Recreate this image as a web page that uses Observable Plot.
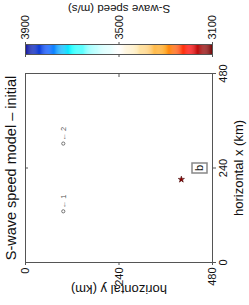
<!DOCTYPE html>
<html><head><meta charset="utf-8">
<script src="https://cdn.jsdelivr.net/npm/d3@7"></script>
<script src="https://cdn.jsdelivr.net/npm/@observablehq/plot@0.6"></script>
<style>
html,body{margin:0;padding:0;background:#fff;}
#chart{width:249px;height:305px;position:relative;font-family:"Liberation Sans",Arial,sans-serif;}
#chart svg{display:block;}
</style></head><body><div id="chart"></div>
<script>
// ---- data ----
const title = "S-wave speed model – initial";
const cbTitle = "S-wave speed (m/s)";
const xTitle = "horizontal x (km)";
const yTitle = "horizontal y (km)";
const panelLabel = ["b"];
const cbTicks = [3900, 3500, 3100];
const cbStops = [3100, 3148, 3196, 3300, 3420, 3500, 3596, 3700, 3804, 3900];
const cbColors = ["#6e0000","#a00000","#ff0000","#ff9900","#ffe9b0","#ffffff","#c0ffff","#00ffff","#0050ff","#000090"];
const axisTicks = [0, 240, 480];
const stationNames = ["1", "2"];
const stationYkm = [97, 97];
const stationXkm = [130, 302];
const sourceYkm = [400];
const sourceXkm = [211];

const font = "Liberation Sans, Arial, sans-serif";
const grey = "#555";
const stations = stationNames.map((n, i) => ({name: n, ykm: stationYkm[i], xkm: stationXkm[i]}));
const sources = sourceYkm.map((v, i) => ({ykm: v, xkm: sourceXkm[i]}));
const cbSteps = d3.range(cbStops[0], cbStops[cbStops.length - 1], 4);

const colorbar = Plot.plot({
  width: 249, height: 62,
  marginLeft: 25, marginRight: 37, marginTop: 44, marginBottom: 8,
  style: {fontFamily: font, fontSize: "11px", color: "#111", background: "transparent"},
  x: {domain: [3900, 3100], label: null},
  color: {type: "linear", domain: cbStops, range: cbColors},
  marks: [
    Plot.rect(cbSteps, {x1: d => d, x2: d => d + 4, fill: d => d + 2}),
    Plot.frame({stroke: grey}),
    Plot.axisX({anchor: "top", ticks: cbTicks, tickSize: 3, tickRotate: -90, tickPadding: 2, tickFormat: d => String(d), label: null, stroke: grey}),
    Plot.axisX({anchor: "bottom", ticks: cbTicks, tickSize: 3, tickFormat: () => "", label: null, stroke: grey}),
    Plot.text([cbTitle], {frameAnchor: "top", dy: -36, rotate: 180, textAnchor: "middle", lineAnchor: "middle", fontSize: 11.5})
  ]
});

const boxSymbol = {draw(ctx) { const w = 7.5, h = 5; ctx.moveTo(-w, -h); ctx.lineTo(w, -h); ctx.lineTo(w, h); ctx.lineTo(-w, h); ctx.closePath(); }};

const main = Plot.plot({
  width: 249, height: 243,
  marginLeft: 25, marginRight: 37, marginTop: 11, marginBottom: 43,
  style: {fontFamily: font, fontSize: "11px", color: "#111", background: "transparent"},
  x: {domain: [0, 480], label: null},
  y: {domain: [0, 480], label: null},
  marks: [
    Plot.frame({stroke: grey}),
    Plot.axisX({anchor: "bottom", ticks: axisTicks, tickSize: 3, tickRotate: -90, tickPadding: 2, label: null, stroke: grey}),
    Plot.axisX({anchor: "top", ticks: axisTicks, tickSize: -3, tickFormat: () => "", label: null, stroke: grey}),
    Plot.axisY({anchor: "right", ticks: axisTicks, tickSize: 3, tickRotate: -90, tickPadding: 4, textAnchor: "middle", lineAnchor: "top", label: null, stroke: grey}),
    Plot.axisY({anchor: "left", ticks: axisTicks, tickSize: -3, tickFormat: () => "", label: null, stroke: grey}),
    Plot.dot(stations, {x: "ykm", y: "xkm", r: 1.6, stroke: "#555", strokeWidth: 0.8}),
    Plot.text(stations, {x: "ykm", y: "xkm", text: d => "← " + d.name, rotate: -90, textAnchor: "start", lineAnchor: "middle", dy: -3, fontSize: 7.5, fill: "#555"}),
    Plot.dot(sources, {x: "ykm", y: "xkm", symbol: "star", r: 2, fill: "#8b0000", stroke: "#3a0000", strokeWidth: 0.5}),
    Plot.dot(panelLabel, {frameAnchor: "right", dx: -13, symbol: boxSymbol, r: 5, stroke: "#888", fill: "white"}),
    Plot.text(panelLabel, {frameAnchor: "right", dx: -13, rotate: -90, textAnchor: "middle", lineAnchor: "middle", fontSize: 11, text: d => d}),
    Plot.text([title], {frameAnchor: "left", dx: -14.5, rotate: -90, textAnchor: "middle", lineAnchor: "middle", fontSize: 14.5}),
    Plot.text([xTitle], {frameAnchor: "right", dx: 26.5, rotate: -90, textAnchor: "middle", lineAnchor: "middle", fontSize: 13}),
    Plot.text([yTitle], {frameAnchor: "bottom", dy: 26.5, rotate: 180, textAnchor: "middle", lineAnchor: "middle", fontSize: 13})
  ]
});

const root = document.getElementById("chart");
root.appendChild(colorbar);
root.appendChild(main);
</script></body></html>
